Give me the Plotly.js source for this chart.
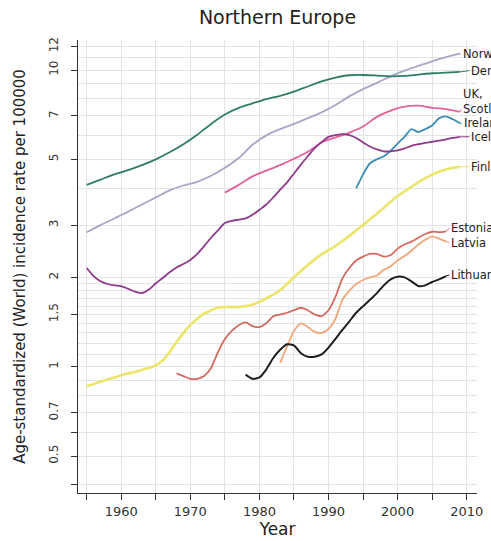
<!DOCTYPE html>
<html>
<head>
<meta charset="utf-8">
<script src="https://cdn.plot.ly/plotly-3.0.1.min.js"></script>
<style>
  html, body { margin: 0; padding: 0; background: #ffffff; }
  #chart { width: 491px; height: 541px; }
</style>
</head>
<body>
<div id="chart"></div>
<script>
// Age-standardized (World) incidence rate per 100000, Northern Europe

const yearsNorway = [1955, 1957, 1959, 1961, 1963, 1965, 1967, 1969, 1971, 1973, 1975, 1977, 1979, 1981, 1983, 1985, 1987, 1989, 1991, 1993, 1995, 1997, 1999, 2001, 2003, 2005, 2007, 2009];
const norway = [2.84, 3.00, 3.16, 3.33, 3.52, 3.72, 3.93, 4.08, 4.20, 4.40, 4.68, 5.05, 5.60, 6.02, 6.32, 6.58, 6.88, 7.20, 7.62, 8.15, 8.62, 9.05, 9.52, 9.95, 10.32, 10.70, 11.05, 11.35];

const yearsDenmark = [1955, 1957, 1959, 1961, 1963, 1965, 1967, 1969, 1971, 1973, 1975, 1977, 1979, 1981, 1983, 1985, 1987, 1989, 1991, 1993, 1995, 1997, 1999, 2001, 2003, 2005, 2007, 2009];
const denmark = [4.10, 4.27, 4.45, 4.60, 4.78, 5.00, 5.28, 5.62, 6.05, 6.58, 7.08, 7.45, 7.72, 7.98, 8.18, 8.45, 8.80, 9.15, 9.42, 9.60, 9.62, 9.58, 9.52, 9.55, 9.65, 9.75, 9.80, 9.85];

const yearsScotland = [1975, 1977, 1979, 1981, 1983, 1985, 1987, 1989, 1991, 1993, 1995, 1997, 1999, 2001, 2003, 2005, 2007, 2009];
const scotland = [3.86, 4.10, 4.38, 4.58, 4.78, 5.02, 5.30, 5.70, 5.92, 6.15, 6.45, 6.95, 7.30, 7.52, 7.58, 7.45, 7.38, 7.22];

const yearsIreland = [1994, 1995, 1996, 1997, 1998, 1999, 2000, 2001, 2002, 2003, 2004, 2005, 2006, 2007, 2008, 2009];
const ireland = [3.99, 4.45, 4.85, 5.00, 5.12, 5.35, 5.65, 5.95, 6.32, 6.18, 6.32, 6.50, 6.88, 6.98, 6.82, 6.62];

const yearsIceland = [1955, 1956, 1957, 1958, 1959, 1960, 1961, 1962, 1963, 1964, 1965, 1966, 1967, 1968, 1969, 1970, 1971, 1972, 1973, 1974, 1975, 1976, 1977, 1978, 1979, 1980, 1981, 1982, 1983, 1984, 1985, 1986, 1987, 1988, 1989, 1990, 1991, 1992, 1993, 1994, 1995, 1996, 1997, 1998, 1999, 2000, 2001, 2002, 2003, 2004, 2005, 2006, 2007, 2008, 2009];
const iceland = [2.15, 2.02, 1.94, 1.90, 1.88, 1.87, 1.83, 1.79, 1.77, 1.82, 1.91, 1.99, 2.08, 2.16, 2.22, 2.29, 2.40, 2.55, 2.72, 2.88, 3.05, 3.10, 3.13, 3.16, 3.25, 3.38, 3.52, 3.72, 3.95, 4.18, 4.48, 4.80, 5.12, 5.45, 5.72, 5.95, 6.03, 6.08, 6.03, 5.90, 5.70, 5.52, 5.40, 5.32, 5.32, 5.36, 5.44, 5.55, 5.62, 5.68, 5.73, 5.78, 5.84, 5.90, 5.95];

const yearsFinland = [1955, 1956, 1957, 1958, 1959, 1960, 1961, 1962, 1963, 1964, 1965, 1966, 1967, 1968, 1969, 1970, 1971, 1972, 1973, 1974, 1975, 1976, 1977, 1978, 1979, 1980, 1981, 1982, 1983, 1984, 1985, 1986, 1987, 1988, 1989, 1990, 1991, 1992, 1993, 1994, 1995, 1996, 1997, 1998, 1999, 2000, 2001, 2002, 2003, 2004, 2005, 2006, 2007, 2008, 2009];
const finland = [0.86, 0.875, 0.89, 0.905, 0.92, 0.935, 0.95, 0.96, 0.975, 0.99, 1.01, 1.05, 1.12, 1.21, 1.30, 1.38, 1.45, 1.51, 1.55, 1.58, 1.59, 1.59, 1.59, 1.60, 1.62, 1.65, 1.70, 1.75, 1.81, 1.90, 2.00, 2.10, 2.20, 2.30, 2.39, 2.47, 2.55, 2.65, 2.76, 2.88, 3.00, 3.14, 3.28, 3.43, 3.60, 3.76, 3.90, 4.04, 4.18, 4.32, 4.44, 4.54, 4.62, 4.68, 4.72];

const yearsEstonia = [1968, 1969, 1970, 1971, 1972, 1973, 1974, 1975, 1976, 1977, 1978, 1979, 1980, 1981, 1982, 1983, 1984, 1985, 1986, 1987, 1988, 1989, 1990, 1991, 1992, 1993, 1994, 1995, 1996, 1997, 1998, 1999, 2000, 2001, 2002, 2003, 2004, 2005, 2006, 2007];
const estonia = [0.95, 0.93, 0.91, 0.91, 0.93, 0.99, 1.12, 1.24, 1.32, 1.38, 1.41, 1.37, 1.36, 1.40, 1.48, 1.50, 1.52, 1.55, 1.58, 1.55, 1.50, 1.48, 1.55, 1.72, 1.98, 2.15, 2.28, 2.35, 2.40, 2.40, 2.35, 2.38, 2.50, 2.58, 2.64, 2.72, 2.80, 2.85, 2.84, 2.86];

const yearsLatvia = [1983, 1984, 1985, 1986, 1987, 1988, 1989, 1990, 1991, 1992, 1993, 1994, 1995, 1996, 1997, 1998, 1999, 2000, 2001, 2002, 2003, 2004, 2005, 2006, 2007];
const latvia = [1.03, 1.17, 1.32, 1.40, 1.36, 1.31, 1.30, 1.34, 1.45, 1.68, 1.80, 1.90, 1.96, 2.00, 2.03, 2.12, 2.18, 2.28, 2.36, 2.46, 2.58, 2.68, 2.75, 2.70, 2.64];

const yearsLithuania = [1978, 1979, 1980, 1981, 1982, 1983, 1984, 1985, 1986, 1987, 1988, 1989, 1990, 1991, 1992, 1993, 1994, 1995, 1996, 1997, 1998, 1999, 2000, 2001, 2002, 2003, 2004, 2005, 2006, 2007];
const lithuania = [0.94, 0.91, 0.92, 0.98, 1.07, 1.14, 1.19, 1.18, 1.11, 1.08, 1.08, 1.10, 1.16, 1.24, 1.33, 1.42, 1.52, 1.60, 1.68, 1.77, 1.88, 1.97, 2.01, 2.00, 1.94, 1.87, 1.88, 1.93, 1.97, 2.02];

// Axis ticks and labels
const xTickVals = [1955, 1960, 1965, 1970, 1975, 1980, 1985, 1990, 1995, 2000, 2005, 2010];
const xTickText = ['', '1960', '', '1970', '', '1980', '', '1990', '', '2000', '', '2010'];
const yTickVals = [0.4, 0.5, 0.6, 0.7, 1, 1.5, 2, 3, 5, 7, 10, 12];
const yTickText = ['', '0.5', '', '0.7', '1', '1.5', '2', '3', '5', '7', '10', '12'];
const yGridVals = [0.4, 0.5, 0.6, 0.7, 0.8, 0.9, 1, 1.1, 1.2, 1.3, 1.4, 1.5, 1.6, 1.7, 1.8, 1.9, 2, 3, 4, 5, 6, 7, 8, 9, 10, 11, 12];

// Direct labels at the end of each line
const labelNames = ['Norway', 'Denmark', 'Scotland', 'Ireland', 'Iceland', 'Finland', 'Estonia', 'Latvia', 'Lithuania'];
const labelYears = [2009.3, 2010.5, 2009.3, 2009.4, 2010.5, 2010.5, 2007.6, 2007.6, 2007.6];
const labelValues = [11.3, 9.95, 7.36, 6.61, 5.96, 4.72, 2.93, 2.62, 2.04];
const groupLabel = 'UK,';
const groupLabelValue = 8.3;

const FONT = 'DejaVu Sans, Arial, sans-serif';

const series = [
  {x: yearsNorway, y: norway, color: '#aaa4c6', width: 1.8, smooth: 0.9},
  {x: yearsDenmark, y: denmark, color: '#2f7d66', width: 1.8, smooth: 0.9},
  {x: yearsScotland, y: scotland, color: '#e2629b', width: 1.8, smooth: 0.9},
  {x: yearsIreland, y: ireland, color: '#3a8db5', width: 1.8, smooth: 0.6},
  {x: yearsIceland, y: iceland, color: '#8f3b8c', width: 1.8, smooth: 0.8},
  {x: yearsFinland, y: finland, color: '#ede46a', width: 2.6, smooth: 0.8},
  {x: yearsEstonia, y: estonia, color: '#d66a60', width: 1.8, smooth: 0.6},
  {x: yearsLatvia, y: latvia, color: '#f0a67a', width: 1.8, smooth: 0.6},
  {x: yearsLithuania, y: lithuania, color: '#1e1e1e', width: 2.0, smooth: 0.6}
];

const labelFont = {family: FONT, size: 11.5, color: '#222222'};
const traces = [];
const annotations = [];

series.forEach((s, i) => {
  traces.push({
    type: 'scatter', mode: 'lines', x: s.x, y: s.y,
    line: {color: s.color, width: s.width, shape: 'spline', smoothing: s.smooth},
    hoverinfo: 'skip', showlegend: false, cliponaxis: false
  });
  // short leader from the last point to its label
  const lastX = s.x[s.x.length - 1];
  const lastY = s.y[s.y.length - 1];
  traces.push({
    type: 'scatter', mode: 'lines',
    x: [lastX, labelYears[i] - 0.1], y: [lastY, labelValues[i]],
    line: {color: s.color, width: 1}, hoverinfo: 'skip', showlegend: false, cliponaxis: false
  });
  annotations.push({
    x: labelYears[i], y: Math.log10(labelValues[i]), xref: 'x', yref: 'y',
    text: labelNames[i], showarrow: false, xanchor: 'left', yanchor: 'middle',
    align: 'left', borderpad: 0, font: labelFont
  });
});

// first line of the two-line UK label
annotations.push({
  x: labelYears[2], y: Math.log10(groupLabelValue), xref: 'x', yref: 'y',
  text: groupLabel, showarrow: false, xanchor: 'left', yanchor: 'middle',
  align: 'left', borderpad: 0, font: labelFont
});

const layout = {
  width: 491, height: 541,
  margin: {l: 78, r: 14, t: 40, b: 48},
  paper_bgcolor: '#ffffff', plot_bgcolor: '#ffffff',
  showlegend: false,
  title: {
    text: 'Northern Europe', xref: 'paper', x: 0.5, xanchor: 'center',
    yref: 'container', y: 1 - 17 / 541, yanchor: 'middle',
    font: {family: FONT, size: 19, color: '#222222'}
  },
  xaxis: {
    range: [1953.74, 2011.49], tickmode: 'array', tickvals: xTickVals, ticktext: xTickText,
    ticks: 'outside', ticklen: 6, tickwidth: 1, tickcolor: '#333333',
    showline: true, linecolor: '#333333', linewidth: 1, zeroline: false,
    showgrid: true, gridcolor: '#e4e4e4', gridwidth: 1,
    tickfont: {family: FONT, size: 13, color: '#333333'},
    title: {text: 'Year', font: {family: FONT, size: 17, color: '#222222'}, standoff: 0},
    automargin: false
  },
  yaxis: {
    type: 'log', range: [-0.4257, 1.1011], tickmode: 'array', tickvals: yTickVals, ticktext: yTickText,
    tickangle: -90, ticks: 'outside', ticklen: 6, tickwidth: 1, tickcolor: '#333333',
    ticklabelstandoff: 8,
    showline: true, linecolor: '#333333', linewidth: 1, zeroline: false,
    showgrid: true, gridcolor: '#e4e4e4', gridwidth: 1,
    minor: {tickmode: 'array', tickvals: yGridVals, showgrid: true, gridcolor: '#e4e4e4', gridwidth: 1, ticks: ''},
    tickfont: {family: FONT, size: 12, color: '#333333'},
    title: {text: 'Age-standardized (World) incidence rate per 100000', font: {family: FONT, size: 15, color: '#222222'}, standoff: 17},
    automargin: false
  },
  annotations: annotations
};

Plotly.newPlot('chart', traces, layout, {displayModeBar: false, staticPlot: true});
</script>
</body>
</html>
